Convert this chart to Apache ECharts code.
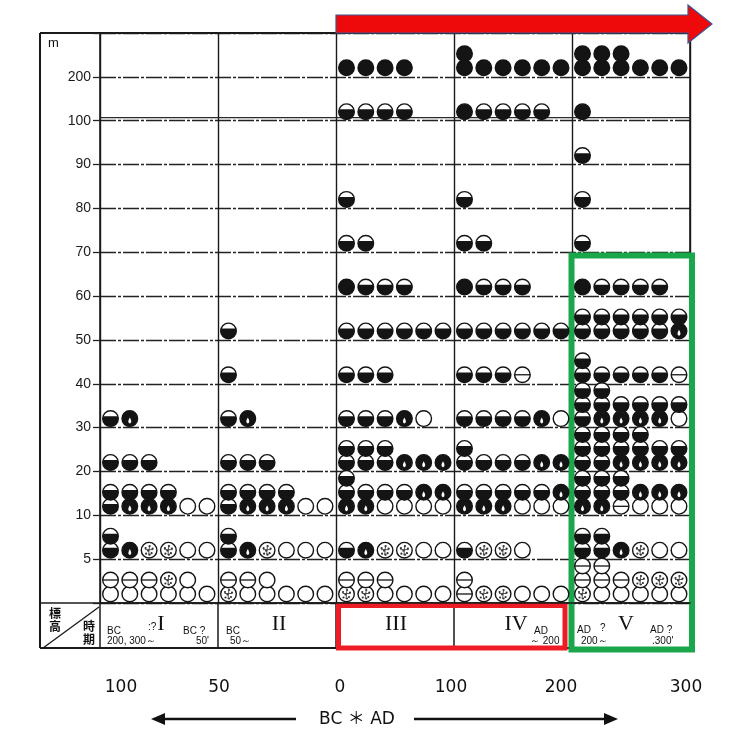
<!DOCTYPE html>
<html>
<head>
<meta charset="UTF-8">
<title>標高別 時期</title>
<script src="https://cdn.jsdelivr.net/npm/echarts@6/dist/echarts.min.js"></script>
<style>
  html, body { margin: 0; padding: 0; background: #fff; }
  #main { width: 729px; height: 738px; }
</style>
</head>
<body>
<div id="main"></div>
<script>
// 時期 (x) と 標高の帯 (y)
var periods = ['I', 'II', 'III', 'IV', 'V'];
var yTickLabels = ['', '5', '10', '20', '30', '40', '50', '60', '70', '80', '90', '100', '200', ''];
var bottomYears = ['100', '50', '0', '100', '200', '300'];

// 記号: F=黒, H=下半黒, D=黒(白抜き), O=白, E=横線, P=点描
var symbolTypes = ['F', 'H', 'D', 'O', 'E', 'P'];

// 帯ごと (0-5m, 5-10m, 10-20m, ... 100-200m, 200m-)、下の段から
var period1 = [
  ['OOOOOO', 'EEEPO'],
  ['HDPPOO', 'H'],
  ['HDDDOO', 'HHHH'],
  ['HHH'],
  ['HD'],
  [], [], [], [], [], [], [], []
];
var period2 = [
  ['POOOOO', 'EEO'],
  ['HDPOOO', 'H'],
  ['HDDDOO', 'HHHH'],
  ['HHH'],
  ['HD'],
  ['H'],
  ['H'],
  [], [], [], [], [], []
];
var period3 = [
  ['PPOOOO', 'EEE'],
  ['HDPPOO'],
  ['DDOOOO', 'HHHHDD', 'H'],
  ['HHHDDD', 'HHH'],
  ['HHHDO'],
  ['HHH'],
  ['HHHHHH'],
  ['FHHH'],
  ['HH'],
  ['H'],
  [],
  ['HHHH'],
  ['FFFF']
];
var period4 = [
  ['EPPOOO', 'E'],
  ['HPPO'],
  ['DDDOOO', 'HHHHHD'],
  ['HHHHDD', 'H'],
  ['HHHHDO'],
  ['HHHE'],
  ['HHHHHH'],
  ['FHHH'],
  ['HH'],
  ['H'],
  [],
  ['FHHHH'],
  ['FFFFFF', 'F']
];
var period5 = [
  ['POOOOO', 'EEEPPP', 'EE'],
  ['HHDPOO', 'HH'],
  ['DDEOOO', 'HHHDDD', 'HHH'],
  ['HHDDDD', 'HHHHHH', 'HHHH'],
  ['HDDDDO', 'HHHHHH', 'HH'],
  ['HHHHHE', 'H'],
  ['HHHHHD', 'HHHHHH'],
  ['FHHHH'],
  ['H'],
  ['H'],
  ['H'],
  ['F'],
  ['FFFFFF', 'FFF']
];

var allPeriods = [period1, period2, period3, period4, period5];

// [時期, 帯, 列, 段, 記号]
var marks = [];
allPeriods.forEach(function (bands, p) {
  bands.forEach(function (rows, b) {
    rows.forEach(function (row, k) {
      for (var i = 0; i < row.length; i++) {
        marks.push([p, b, i, k, symbolTypes.indexOf(row[i])]);
      }
    });
  });
});

var INK = '#141414';

function symbolShapes(t, cx, cy, r) {
  var out = [];
  function base(fill) {
    return { type: 'circle', shape: { cx: cx, cy: cy, r: r }, style: { fill: fill, stroke: INK, lineWidth: 1.4 } };
  }
  if (t === 'F') {
    out.push(base(INK));
  } else if (t === 'H') {
    out.push(base('#fff'));
    var d = r * 0.3, w = Math.sqrt(r * r - d * d);
    out.push({
      type: 'path',
      shape: { pathData: 'M' + (cx - w) + ' ' + (cy - d) + 'A' + r + ' ' + r + ' 0 1 0 ' + (cx + w) + ' ' + (cy - d) + 'Z' },
      style: { fill: INK }
    });
  } else if (t === 'D') {
    out.push(base(INK));
    out.push({
      type: 'path',
      shape: {
        pathData: 'M' + cx + ' ' + (cy - r * 0.15) +
          'Q' + (cx + r * 0.38) + ' ' + (cy + r * 0.5) + ' ' + cx + ' ' + (cy + r * 0.62) +
          'Q' + (cx - r * 0.38) + ' ' + (cy + r * 0.5) + ' ' + cx + ' ' + (cy - r * 0.15) + 'Z'
      },
      style: { fill: '#fff' }
    });
  } else if (t === 'O') {
    out.push(base('#fff'));
  } else if (t === 'E') {
    out.push(base('#fff'));
    out.push({ type: 'line', shape: { x1: cx - r, y1: cy, x2: cx + r, y2: cy }, style: { stroke: INK, lineWidth: 1.3 } });
  } else if (t === 'P') {
    out.push(base('#fff'));
    var dots = [[-3.5, -2], [0.5, -4], [3.5, -1.5], [-1, 0.5], [2.5, 3], [-3, 3.5], [0.5, 4.5]];
    dots.forEach(function (o) {
      out.push({ type: 'circle', shape: { cx: cx + o[0], cy: cy + o[1], r: 1.1 }, style: { fill: '#333' } });
    });
    out.push({ type: 'line', shape: { x1: cx - 4, y1: cy - 0.5, x2: cx + 4, y2: cy - 0.5 }, style: { stroke: '#444', lineWidth: 0.9 } });
    out.push({ type: 'line', shape: { x1: cx + 0.5, y1: cy - 5, x2: cx - 0.5, y2: cy + 5 }, style: { stroke: '#444', lineWidth: 0.9 } });
  }
  return out;
}

var chart = echarts.init(document.getElementById('main'), null, { renderer: 'canvas' });

var option = {
  backgroundColor: '#fff',
  animation: false,
  grid: { left: 100, right: 39, top: 33, bottom: 135 },
  xAxis: {
    type: 'value',
    min: 0,
    max: 5,
    interval: 1,
    axisLabel: { show: false },
    axisTick: { show: false },
    axisLine: { show: true, lineStyle: { color: '#1a1a1a', width: 1.6 } },
    splitLine: { show: true, lineStyle: { color: '#1a1a1a', width: 1.4 } }
  },
  yAxis: {
    type: 'value',
    min: 0,
    max: 13,
    interval: 1,
    axisLine: { show: true, lineStyle: { color: '#1a1a1a', width: 1.6 } },
    axisTick: { show: true, length: 7, lineStyle: { color: '#222', width: 1.3 } },
    axisLabel: {
      margin: 9,
      fontSize: 14,
      fontFamily: 'Liberation Sans, Arial, sans-serif',
      color: '#1a1a1a',
      formatter: function (v) { return yTickLabels[v] || ''; }
    },
    splitLine: { show: true, lineStyle: { color: '#222', width: 1.3, type: [16, 2, 3, 2] } }
  },
  series: [{
    type: 'custom',
    clip: false,
    data: marks,
    encode: { x: 0, y: 1 },
    renderItem: function (params, api) {
      var pt = api.coord([api.value(0), api.value(1)]);
      var cx = pt[0] + 10.5 + 19.3 * api.value(2);
      var cy = pt[1] - 9 - 14 * api.value(3);
      return { type: 'group', children: symbolShapes(symbolTypes[api.value(4)], cx, cy, 7.8) };
    }
  }]
};

chart.setOption(option);

// 枠・時期欄・注記
function px(x, y) { return chart.convertToPixel({ gridIndex: 0 }, [x, y]); }

var gridTop = px(0, 13)[1];
var baseY = px(0, 0)[1];
var frameLeft = 40, frameBottom = 648;
var gridRight = px(5, 0)[0];
var g = [];

function line(x1, y1, x2, y2, w, c) {
  g.push({ type: 'line', shape: { x1: x1, y1: y1, x2: x2, y2: y2 }, style: { stroke: c || '#1a1a1a', lineWidth: w || 1.6 } });
}
function text(str, x, y, size, opts) {
  opts = opts || {};
  g.push({
    type: 'text', x: x, y: y,
    style: {
      text: str,
      fontSize: size,
      fontFamily: opts.font || 'DejaVu Sans, sans-serif',
      fontWeight: opts.weight || 'normal',
      fill: opts.color || '#111',
      align: opts.align || 'center',
      verticalAlign: 'middle'
    }
  });
}

line(frameLeft, gridTop, gridRight, gridTop, 2);
line(frameLeft, gridTop, frameLeft, frameBottom, 2);
line(frameLeft, frameBottom, gridRight, frameBottom, 2);
line(frameLeft, baseY, gridRight, baseY, 1.6);
line(gridRight, gridTop, gridRight, frameBottom, 1.6);
var y100 = px(0, 11)[1];
line(px(0, 0)[0], y100 - 3, gridRight, y100 - 3, 1.2, '#2a2a2a');
for (var c = 0; c <= 5; c++) {
  var xc = px(c, 0)[0];
  line(xc, baseY, xc, frameBottom, 1.5);
}
text('m', 48, 43, 13, { font: 'Liberation Sans, Arial, sans-serif', align: 'left' });

// 標高 / 時期
line(43, 648, 99, 607, 1.3);
var cjk = { font: '"Noto Sans CJK JP", sans-serif', weight: 'bold' };
text('標', 55, 613, 12, cjk);
text('高', 55, 626, 12, cjk);
text('時', 89, 626, 12, cjk);
text('期', 89, 639, 12, cjk);

var romanX = [161, 279, 396, 516, 626];
periods.forEach(function (p, i) {
  text(p, romanX[i], 624, 22, { font: 'Liberation Serif, serif' });
});
var small = { font: 'Liberation Sans, Arial, sans-serif', align: 'left' };
text('BC', 107, 631, 10, small); text(':?', 148, 627, 10, small);
text('200, 300～', 107, 641, 10, small);
text('BC ?', 183, 631, 10, small); text("50'", 196, 641, 10, small);
text('BC', 226, 631, 10, small); text('50～', 230, 641, 10, small);
text('AD', 534, 631, 10, small); text('～ 200', 530, 641, 10, small);
text('AD', 577, 630, 10, small); text('?', 600, 628, 10, small); text('200～', 581, 641, 10, small);
text('AD ?', 650, 630, 10, small); text(".300'", 652, 641, 10, small);

// 強調
g.push({ type: 'rect', shape: { x: 338.5, y: 605.5, width: 226.5, height: 42.5 }, style: { fill: 'none', stroke: '#ee1c24', lineWidth: 5 } });
g.push({ type: 'rect', shape: { x: 571.5, y: 255.5, width: 120.5, height: 394 }, style: { fill: 'none', stroke: '#1aa64a', lineWidth: 6 } });
g.push({
  type: 'polygon',
  shape: { points: [[336, 15], [688, 15], [688, 5], [712, 24], [688, 43], [688, 33], [336, 33]] },
  style: { fill: '#ee0a0a', stroke: '#3b5590', lineWidth: 1.2 }
});

// 年代目盛
var yearX = [121, 219, 340, 451, 561, 686];
bottomYears.forEach(function (s, i) {
  text(s, yearX[i], 688, 17, { font: 'DejaVu Sans, sans-serif' });
});
text('BC ＊ AD', 357, 720, 17, { font: 'DejaVu Sans, "Noto Sans CJK JP", sans-serif' });
line(296, 719, 162, 719, 2.5, '#111');
g.push({ type: 'polygon', shape: { points: [[151, 719], [165, 713], [165, 725]] }, style: { fill: '#111' } });
line(414, 719, 606, 719, 2.5, '#111');
g.push({ type: 'polygon', shape: { points: [[618, 719], [604, 713], [604, 725]] }, style: { fill: '#111' } });

chart.setOption({ graphic: g });
</script>
</body>
</html>
